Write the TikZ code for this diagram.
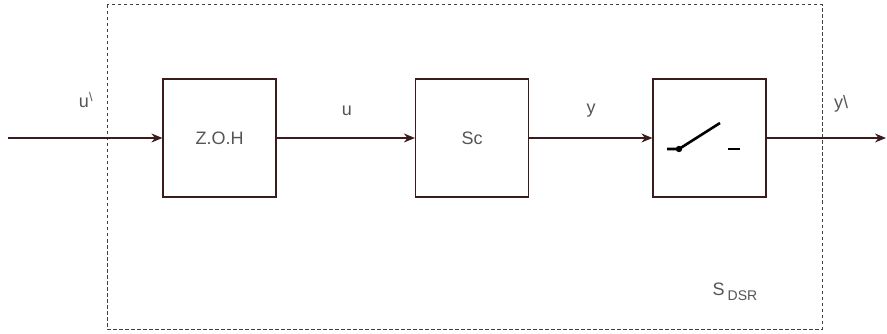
\documentclass[tikz,border=0pt]{standalone}
\usepackage{fontspec}
\setmainfont{Liberation Sans}
\usetikzlibrary{arrows.meta, positioning, calc}
\definecolor{wire}{HTML}{3A1C1C}
\definecolor{txt}{HTML}{555555}

\begin{document}
\begin{tikzpicture}[
    x=1pt, y=-1pt,
    font=\fontsize{18}{21}\selectfont,
    block/.style={rectangle, draw=wire, line width=1.2pt, minimum width=113pt, minimum height=118pt, text=txt, inner sep=0pt},
    label/.style={text=txt, inner sep=0pt},
    arrow/.style={-{Stealth[length=11pt, width=9pt]}, draw=wire, line width=1.2pt}
]
\useasboundingbox (0,0) rectangle (887,334);

% system boundary
\draw[dash pattern=on 3.5pt off 2.5pt, line width=1pt, draw=black!75] (107,5) rectangle (822,329);

\node[block] (zoh) at (219.5,138) {Z.O.H};
\node[block] (sc) at (472,138) {Sc};
\node[block] (sw) at (709.5,138) {};

\coordinate (in) at (8,138);
\coordinate (out) at (886,138);

% switch symbol
\coordinate (pivot) at (679,149);
\draw[line width=2.6pt] (667,149) -- (pivot) -- (720,123);
\fill (pivot) circle (3.2pt);
\draw[line width=2.6pt] (728,149) -- (740,149);

\draw[arrow] (in) -- (zoh);
\draw[arrow] (zoh) -- (sc);
\draw[arrow] (sc) -- (sw);
\draw[arrow] (sw) -- (out);

\node[label] (uin) at (86,100) {u\textsuperscript{\textbackslash}};
\node[label] (u) at (347,111) {u};
\node[label] (y) at (591,111) {y};
\node[label] (yout) at (841,104) {y\textbackslash};
\node[label] (sdsr) at (735,292) {S\,\raisebox{-0.5ex}{\fontsize{14}{16}\selectfont DSR}};

\end{tikzpicture}
\end{document}
